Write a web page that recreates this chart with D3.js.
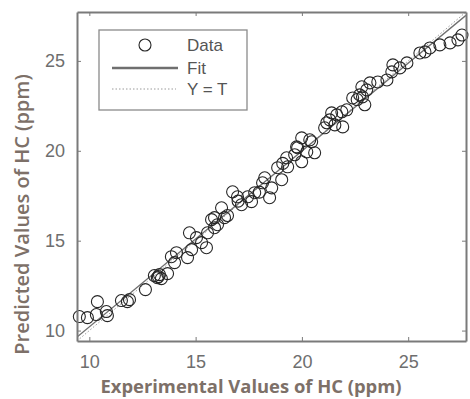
<!DOCTYPE html>
<html>
<head>
<meta charset="utf-8">
<script src="https://cdn.jsdelivr.net/npm/d3@7"></script>
<style>
  html, body { margin: 0; padding: 0; background: #fff; }
  svg { display: block; }
</style>
</head>
<body>
<svg id="chart" width="470" height="399"></svg>
<script>
// Experimental (target) HC values, ppm
const experimental = [
  9.53, 9.91, 10.38, 10.33, 10.80, 10.85, 11.51, 11.79, 11.89, 12.64,
  13.06, 13.20, 13.30, 13.39, 13.68, 14.01, 13.86, 14.10, 14.62, 14.81,
  14.71, 15.28, 15.51, 15.04, 15.56, 15.89, 15.89, 15.75, 16.03, 16.36,
  16.22, 16.74, 16.97, 17.16, 17.45, 17.78, 17.63, 18.15, 18.48, 18.58,
  18.25, 18.86, 19.05, 19.33, 19.28, 19.66, 19.80, 19.99, 20.23, 20.60,
  20.46, 19.99, 19.75, 20.37, 21.07, 21.31, 21.55, 21.64, 21.88, 21.17,
  21.92, 21.40, 22.11, 22.39, 22.72, 23.05, 22.82, 22.96, 23.20, 23.57,
  24.00, 24.28, 24.23, 24.61, 24.94, 25.55, 25.79, 26.02, 26.49, 26.97,
  27.34, 27.53, 22.60, 22.85, 16.50, 17.00, 19.10, 18.00, 13.25
];
// Model-predicted HC values, ppm
const predicted = [
  10.78, 10.72, 11.61, 10.89, 11.06, 10.83, 11.67, 11.61, 11.72, 12.28,
  13.06, 12.94, 13.11, 12.89, 13.17, 13.78, 14.11, 14.33, 14.06, 14.50,
  15.44, 14.89, 14.61, 15.17, 15.44, 15.72, 16.28, 16.17, 15.89, 16.28,
  16.83, 17.72, 17.44, 17.00, 17.44, 17.67, 17.17, 18.22, 17.39, 17.94,
  18.50, 19.06, 18.39, 19.11, 19.61, 19.78, 20.17, 20.72, 19.94, 19.89,
  20.50, 19.39, 20.22, 20.61, 21.28, 21.72, 21.44, 22.00, 22.17, 21.56,
  21.33, 22.11, 22.28, 22.94, 23.11, 23.39, 23.56, 22.56, 23.78, 23.83,
  23.94, 24.78, 24.39, 24.61, 24.89, 25.44, 25.50, 25.72, 25.89, 26.00,
  26.17, 26.44, 22.85, 23.00, 16.40, 17.20, 19.30, 17.70, 13.00
];
const axisLimits = [9.42, 27.72];
const tickValues = [10, 15, 20, 25];
const legendLabels = ["Data", "Fit", "Y = T"];

const svg = d3.select("#chart");
const box = { left: 77, right: 466, top: 12, bottom: 341 };

const x = d3.scaleLinear().domain(axisLimits).range([box.left, box.right]);
const y = d3.scaleLinear().domain(axisLimits).range([box.bottom, box.top]);

const axisColor = "#7a7a7a";
const textColor = "#6e6e6e";
const titleColor = "#7d7068";

// clip region for the lines
svg.append("defs").append("clipPath").attr("id", "plotClip")
  .append("rect")
  .attr("x", box.left).attr("y", box.top)
  .attr("width", box.right - box.left).attr("height", box.bottom - box.top);

// least-squares fit of predicted vs experimental
const mx = d3.mean(experimental), my = d3.mean(predicted);
let sxy = 0, sxx = 0;
experimental.forEach((v, i) => { sxy += (v - mx) * (predicted[i] - my); sxx += (v - mx) * (v - mx); });
const slope = sxy / sxx, intercept = my - slope * mx;

const lineGen = d3.line().x(d => x(d[0])).y(d => y(d[1]));

const lines = svg.append("g").attr("clip-path", "url(#plotClip)");
// Y = T reference line
lines.append("path")
  .attr("d", lineGen(axisLimits.map(v => [v, v])))
  .attr("fill", "none").attr("stroke", "#9a9a9a").attr("stroke-width", 1)
  .attr("stroke-dasharray", "1.5,2");
// fitted line
lines.append("path")
  .attr("d", lineGen(axisLimits.map(v => [v, intercept + slope * v])))
  .attr("fill", "none").attr("stroke", "#6f6f6f").attr("stroke-width", 1.3);

// data markers
svg.append("g").selectAll("circle")
  .data(experimental.map((v, i) => [v, predicted[i]]))
  .join("circle")
  .attr("cx", d => x(d[0])).attr("cy", d => y(d[1]))
  .attr("r", 6)
  .attr("fill", "none").attr("stroke", "#262626").attr("stroke-width", 1.1);

// axes (ticks pointing inward, boxed)
const tickLen = 4;
const bottomAxis = d3.axisBottom(x).tickValues(tickValues).tickSizeInner(-tickLen).tickSizeOuter(0).tickPadding(14);
const leftAxis = d3.axisLeft(y).tickValues(tickValues).tickSizeInner(-tickLen).tickSizeOuter(0).tickPadding(12);
const topAxis = d3.axisTop(x).tickValues(tickValues).tickSizeInner(-tickLen).tickSizeOuter(0).tickFormat("");
const rightAxis = d3.axisRight(y).tickValues(tickValues).tickSizeInner(-tickLen).tickSizeOuter(0).tickFormat("");

function styleAxis(g) {
  g.select(".domain").attr("stroke", axisColor).attr("stroke-width", 2);
  g.selectAll(".tick line").attr("stroke", axisColor).attr("stroke-width", 1);
  g.selectAll(".tick text").attr("fill", textColor)
    .style("font-family", "Arial, 'Liberation Sans', sans-serif").style("font-size", "18px");
}

svg.append("g").attr("transform", `translate(0,${box.bottom})`).call(bottomAxis).call(styleAxis);
svg.append("g").attr("transform", `translate(${box.left},0)`).call(leftAxis).call(styleAxis);
svg.append("g").attr("transform", `translate(0,${box.top})`).call(topAxis).call(styleAxis);
svg.append("g").attr("transform", `translate(${box.right},0)`).call(rightAxis).call(styleAxis);

// axis titles
svg.append("text")
  .attr("x", 251).attr("y", 393)
  .attr("text-anchor", "middle")
  .attr("fill", titleColor)
  .style("font-family", "'Open Sans', sans-serif").style("font-weight", 700).style("font-size", "18.4px")
  .text("Experimental Values of HC (ppm)");

svg.append("text")
  .attr("transform", `translate(29,${(box.top + box.bottom) / 2 + 38}) rotate(-90)`)
  .attr("text-anchor", "middle")
  .attr("fill", titleColor)
  .style("font-family", "'Open Sans', sans-serif").style("font-weight", 600).style("font-size", "20px")
  .text("Predicted Values of HC (ppm)");

// legend
const lg = svg.append("g").attr("transform", `translate(${box.left + 22},${box.top + 18})`);
lg.append("rect").attr("x", 0).attr("y", 0).attr("width", 148).attr("height", 80)
  .attr("fill", "#fff").attr("stroke", "#8a8a8a").attr("stroke-width", 1.3);
const rowY = [15, 38, 59];
lg.append("circle").attr("cx", 46).attr("cy", rowY[0]).attr("r", 6)
  .attr("fill", "none").attr("stroke", "#262626").attr("stroke-width", 1.1);
lg.append("line").attr("x1", 13).attr("x2", 79).attr("y1", rowY[1]).attr("y2", rowY[1])
  .attr("stroke", "#6f6f6f").attr("stroke-width", 2.5);
lg.append("line").attr("x1", 13).attr("x2", 77).attr("y1", rowY[2]).attr("y2", rowY[2])
  .attr("stroke", "#9a9a9a").attr("stroke-width", 1).attr("stroke-dasharray", "1.5,2");
lg.selectAll("text.lbl").data(legendLabels).join("text")
  .attr("class", "lbl")
  .attr("x", 88).attr("y", (d, i) => rowY[i] + 6)
  .attr("fill", "#555")
  .style("font-family", "Arial, 'Liberation Sans', sans-serif").style("font-size", "17px")
  .text(d => d);
</script>
</body>
</html>
